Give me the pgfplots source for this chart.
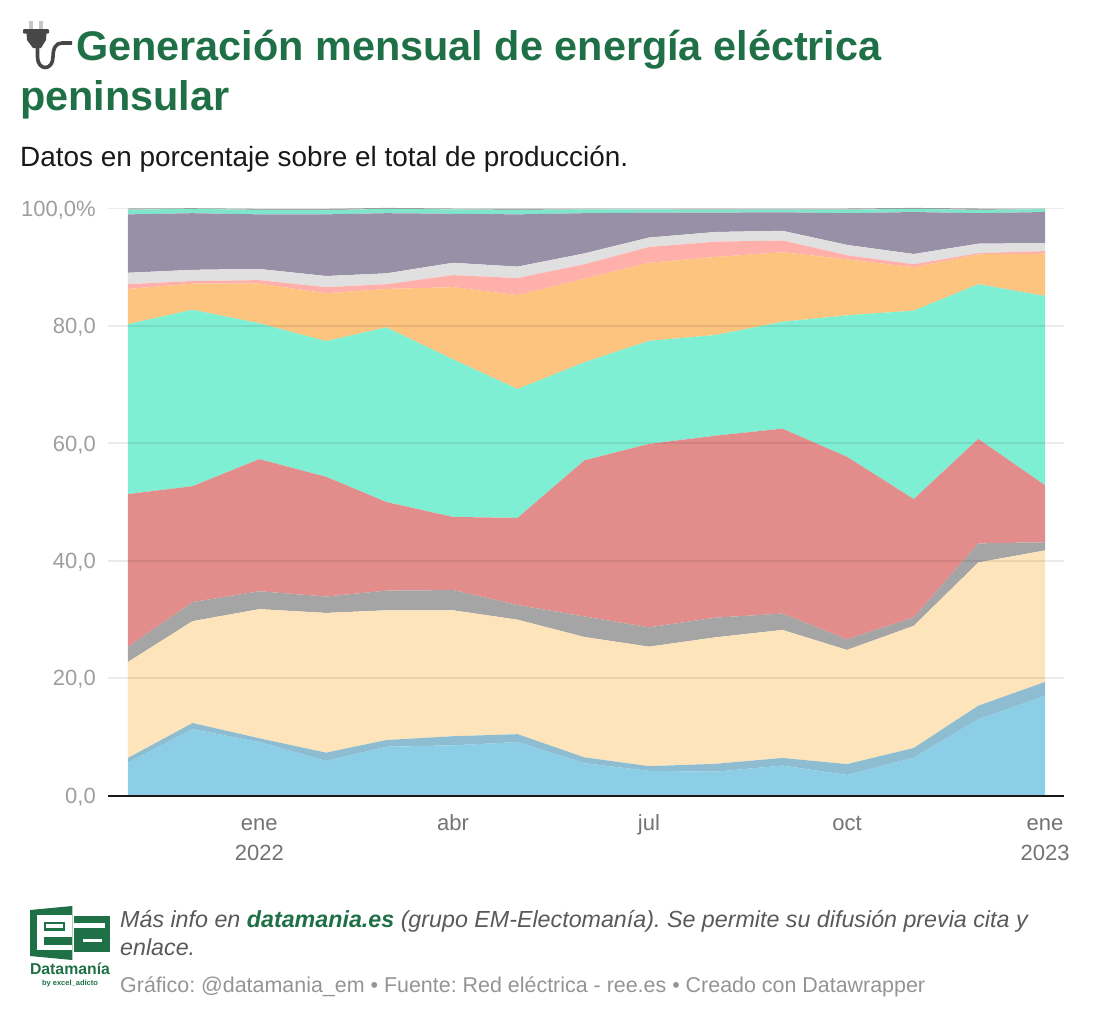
\documentclass[border=0pt]{standalone}
\usepackage{fontspec}
\setmainfont{Liberation Sans}
\usepackage{pgfplots}
\usepackage{pgfplotstable}
\pgfplotsset{compat=1.18}

\definecolor{verde}{HTML}{1F7047}
\definecolor{cA}{HTML}{8CCEE6}
\definecolor{cB}{HTML}{8EBDD1}
\definecolor{cC}{HTML}{FEE4BB}
\definecolor{cD}{HTML}{A5A5A5}
\definecolor{cE}{HTML}{E28D8B}
\definecolor{cF}{HTML}{7FEFD4}
\definecolor{cG}{HTML}{FCC47F}
\definecolor{cH}{HTML}{FFB0AB}
\definecolor{cI}{HTML}{E0E0E0}
\definecolor{cJ}{HTML}{9890A6}
\definecolor{cK}{HTML}{7FE6CC}
\definecolor{cL}{HTML}{A8A8A8}

% dias desde 1 nov 2021, porcentaje de cada serie apilada
\pgfplotstableread{
dia s1 s2 s3 s4 s5 s6 s7 s8 s9 s10 s11 s12
0 5.6 0.8 16.35 2.55 26.05 28.95 6.0 0.8 1.95 9.95 0.8 0.2
30 11.3 1.05 17.35 3.25 19.75 30.05 4.45 0.45 1.9 9.65 0.75 0.1
61 9.1 0.65 22.0 3.05 22.5 23.15 6.75 0.6 1.9 9.3 0.75 0.2
92 5.9 1.4 23.8 2.8 20.4 23.1 8.15 1.05 1.9 10.5 0.7 0.25
120 8.3 1.15 22.1 3.35 15.1 29.75 6.55 0.8 1.85 10.25 0.75 0.15
151 8.55 1.55 21.45 3.45 12.45 26.85 12.3 2.05 2.1 8.35 0.75 0.15
181 9.1 1.35 19.5 2.5 14.85 21.95 16.0 2.9 1.95 8.9 0.75 0.25
212 5.5 1.0 20.5 3.5 26.6 16.7 14.25 2.45 1.85 6.85 0.65 0.15
242 4.2 0.8 20.35 3.3 31.25 17.55 13.3 2.7 1.6 4.25 0.55 0.15
273 4.05 1.35 21.55 3.35 31.0 17.15 13.3 2.6 1.65 3.3 0.5 0.2
304 5.1 1.3 21.8 2.8 31.5 18.2 11.85 2.0 1.65 3.15 0.45 0.2
334 3.5 1.85 19.45 1.8 31.1 24.1 9.55 0.7 1.75 5.4 0.6 0.2
365 6.45 1.65 20.8 1.45 20.15 32.1 7.4 0.5 1.75 7.15 0.55 0.15
395 13.0 2.3 24.4 3.25 17.8 26.35 5.1 0.2 1.6 5.2 0.55 0.25
426 16.95 2.4 22.4 1.4 9.7 32.25 7.2 0.45 1.35 5.3 0.5 0.1
}\generacion

\begin{document}
\frenchspacing
\begin{tikzpicture}[x=1pt,y=-1pt]
\path[use as bounding box] (0,0) rectangle (1096,1018);

% enchufe
\fill[gray!45] (29.3,21) rectangle (33.3,30);
\fill[gray!45] (39,21) rectangle (43,30);
\fill[black!72,rounded corners=1pt] (23,29) rectangle (49,33.5);
\fill[black!72] (26.5,33) -- (46.5,33) -- (46,40) -- (41,48) -- (33,48) -- (27,40) -- cycle;
\draw[black!72,line width=3.6pt] (37.5,47) -- (37.5,57) .. controls (37.5,71) and (53,71) .. (53,57) .. controls (53,48) and (56,43) .. (62,43) -- (72,43);

% titulo
\node[anchor=base west,inner sep=0,text=verde,font=\fontsize{41.4}{41.4}\selectfont\bfseries] at (76,60) {Generación mensual de energía eléctrica};
\node[anchor=base west,inner sep=0,text=verde,font=\fontsize{41.4}{41.4}\selectfont\bfseries] at (20,110) {peninsular};
\node[anchor=base west,inner sep=0,text=black!90,font=\fontsize{27.9}{27.9}\selectfont] at (20,166) {Datos en porcentaje sobre el total de producción.};

\begin{axis}[
  at={(108pt,-795.5pt)},anchor=south west,
  scale only axis,width=956pt,height=587pt,
  xmin=-9.29,xmax=434.8,ymin=0,ymax=100,
  stack plots=y,
  clip=false,
  axis on top,
  axis x line*=bottom,axis y line*=left,
  axis line style={-},
  x axis line style={draw=black!90,line width=2pt},
  y axis line style={draw=none},
  major tick length=0pt,
  ytick={0,20,40,60,80,100},
  yticklabels={{0,0},{20,0},{40,0},{60,0},{80,0},{100,0\%}},
  xtick={61,151,242,334,426},
  xticklabels={{\strut ene\\\strut 2022},\strut abr,\strut jul,\strut oct,{\strut ene\\\strut 2023}},
  ymajorgrids,
  major grid style={draw=black,draw opacity=0.08,line width=1.7pt},
  y tick label style={inner sep=0pt,xshift=-12pt,yshift=-1.5pt,text=black!38,font=\fontsize{22}{22}\selectfont},
  x tick label style={align=center,inner sep=0pt,yshift=-13.5pt,text=black!55,font=\fontsize{22}{30}\selectfont},
]
\addplot[fill=cA,draw=none] table[x=dia,y=s1] {\generacion} \closedcycle;
\addplot[fill=cB,draw=none] table[x=dia,y=s2] {\generacion} \closedcycle;
\addplot[fill=cC,draw=none] table[x=dia,y=s3] {\generacion} \closedcycle;
\addplot[fill=cD,draw=none] table[x=dia,y=s4] {\generacion} \closedcycle;
\addplot[fill=cE,draw=none] table[x=dia,y=s5] {\generacion} \closedcycle;
\addplot[fill=cF,draw=none] table[x=dia,y=s6] {\generacion} \closedcycle;
\addplot[fill=cG,draw=none] table[x=dia,y=s7] {\generacion} \closedcycle;
\addplot[fill=cH,draw=none] table[x=dia,y=s8] {\generacion} \closedcycle;
\addplot[fill=cI,draw=none] table[x=dia,y=s9] {\generacion} \closedcycle;
\addplot[fill=cJ,draw=none] table[x=dia,y=s10] {\generacion} \closedcycle;
\addplot[fill=cK,draw=none] table[x=dia,y=s11] {\generacion} \closedcycle;
\addplot[fill=cL,draw=none] table[x=dia,y=s12] {\generacion} \closedcycle;
\end{axis}

% logo
\fill[verde] (30,910) -- (72.3,906) -- (72.3,960) -- (30,956) -- cycle;
\fill[white] (36.7,915.3) rectangle (72.3,936.7);
\fill[verde] (44,921.7) rectangle (65,931);
\fill[white] (46,924.3) rectangle (62.7,928);
\fill[white] (36.7,936.7) rectangle (43.5,945);
\fill[white] (36.7,945) rectangle (72.3,950);
\fill[verde] (74.3,915.7) rectangle (110,951.7);
\fill[white] (74.3,923.3) rectangle (105,928.3);
\fill[white] (82.7,938.7) rectangle (101.7,942.3);
\node[anchor=base,inner sep=0,text=verde,font=\fontsize{15.8}{15.8}\selectfont\bfseries] at (70,974) {Datamanía};
\node[anchor=base,inner sep=0,text=verde,font=\fontsize{7.5}{7.5}\selectfont\bfseries] at (70,985) {by excel\_adicto};

% pie
\node[anchor=base west,inner sep=0,text=black!65,font=\fontsize{23.26}{23.26}\selectfont\itshape] at (120,927) {Más info en \textcolor{verde}{\bfseries datamania.es} (grupo EM-Electomanía). Se permite su difusión previa cita y};
\node[anchor=base west,inner sep=0,text=black!65,font=\fontsize{23.26}{23.26}\selectfont\itshape] at (120,955) {enlace.};
\node[anchor=base west,inner sep=0,text=black!42,font=\fontsize{21.43}{21.43}\selectfont] at (120,992) {Gráfico: @datamania\_em • Fuente: Red eléctrica - ree.es • Creado con Datawrapper};
\end{tikzpicture}
\end{document}
